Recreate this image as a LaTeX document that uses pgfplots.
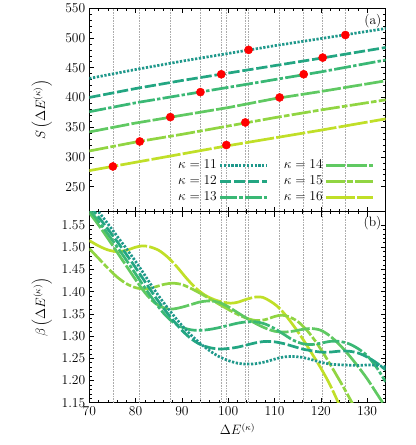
\documentclass[border=0pt]{standalone}
\usepackage{pgfplots}
\pgfplotsset{compat=1.18}
\definecolor{c11}{RGB}{31,152,139}
\definecolor{c12}{RGB}{35,166,130}
\definecolor{c13}{RGB}{58,184,117}
\definecolor{c14}{RGB}{96,201,98}
\definecolor{c15}{RGB}{145,213,66}
\definecolor{c16}{RGB}{192,223,40}
\begin{document}
\begin{tikzpicture}
\pgfplotsset{
  panel/.style={
    scale only axis, width=262.3pt, xmin=70, xmax=134,
    xtick={70,80,90,100,110,120,130}, minor x tick num=4,
    tick align=inside, xtick pos=both, ytick pos=both,
    major tick length=4.5pt, minor tick length=2.5pt,
    axis line style={line width=0.8pt},
    every tick/.style={black, line width=0.5pt},
    every tick label/.append style={font=\large},
    label style={font=\large},
    extra x ticks={75.1,80.9,87.5,94.0,98.5,99.6,103.7,104.4,111.1,116.3,120.4,125.3},
    extra x tick labels={},
    extra x tick style={grid=major, major tick length=0pt, major grid style={gray!65, densely dotted, line width=0.6pt}},
    every axis y label/.style={at={(axis description cs:-0.16,0.5)}, rotate=90, anchor=center, font=\large},
  },
  s11/.style={c11, line width=2.4pt, dash pattern=on 2pt off 1.4pt},
  s12/.style={c12, line width=2.4pt, dash pattern=on 10pt off 2.5pt},
  s13/.style={c13, line width=2.4pt, dash pattern=on 15pt off 2pt on 3pt off 2pt},
  s14/.style={c14, line width=2.4pt, dash pattern=on 17pt off 2pt},
  s15/.style={c15, line width=2.4pt, dash pattern=on 17pt off 2pt on 5pt off 2pt},
  s16/.style={c16, line width=2.4pt, dash pattern=on 26pt off 2pt},
}
\begin{axis}[panel, name=top, height=180pt, ymin=208, ymax=550,
  ytick={250,300,350,400,450,500,550}, minor y tick num=4, xticklabels={},
  ylabel={$S\left(\Delta E^{(\kappa)}\right)$},
  legend plot pos=right,
  legend image code/.code={\draw[#1] (0pt,0pt) -- (42pt,0pt);},
  legend style={at={(rel axis cs:0.975,0.02)}, anchor=south east, draw=none, fill=none, font=\large,
    legend columns=2, row sep=0pt,
    nodes={inner sep=1.5pt, text height=8.5pt, text depth=2.5pt},
    /tikz/every even column/.append style={column sep=12pt}},
]
\addplot[s11] coordinates {(70,432)(80,447)(90,461)(100,474)(110,487)(120,499)(134,516)};
\addlegendentry{$\kappa=11$}
\addplot[s14] coordinates {(70,342)(80,357)(90,370)(100,383)(110,398)(120,410)(134,428)};
\addlegendentry{$\kappa=14$}
\addplot[s12] coordinates {(70,400)(80,415)(90,428.5)(100,441)(110,453.5)(120,466)(134,484)};
\addlegendentry{$\kappa=12$}
\addplot[s15] coordinates {(70,310)(80,325)(90,338)(100,352)(110,366)(120,379)(134,396)};
\addlegendentry{$\kappa=15$}
\addplot[s13] coordinates {(70,376)(80,391)(90,404)(100,417)(110,430)(120,443)(134,463)};
\addlegendentry{$\kappa=13$}
\addplot[s16] coordinates {(70,277)(80,291)(90,305)(100,319)(110,332)(120,345)(134,364)};
\addlegendentry{$\kappa=16$}
\addplot[only marks, mark=*, mark size=3.6pt, color=red, forget plot] coordinates {
(75.1,284)(80.9,326)(87.5,367)(94.0,409)(98.5,439)(104.4,480)
(99.6,320)(103.7,358)(111.1,400)(116.3,439)(120.4,467)(125.3,505)};
\node[anchor=north east, inner sep=1pt, font=\large] at (rel axis cs:0.99,0.975) {(a)};
\end{axis}
\begin{axis}[panel, name=bot, at={(top.south west)}, anchor=north west, height=169.1pt,
  ymin=1.15, ymax=1.58, ytick={1.15,1.20,1.25,1.30,1.35,1.40,1.45,1.50,1.55}, minor y tick num=4,
  yticklabel style={/pgf/number format/.cd, fixed, fixed zerofill, precision=2},
  xlabel={$\Delta E^{(\kappa)}$}, ylabel={$\beta\left(\Delta E^{(\kappa)}\right)$},
]
\addplot[s16, smooth] coordinates {(70,1.515)(72,1.503)(74,1.494)(76,1.490)(78,1.493)(80,1.500)(81.5,1.503)(83,1.501)(85,1.493)(87,1.477)(89,1.455)(91,1.430)(93,1.408)(95,1.392)(97,1.382)(99,1.376)(100.5,1.374)(102,1.376)(104,1.383)(106,1.388)(107.5,1.387)(109,1.379)(110.5,1.368)(112,1.352)(114,1.325)(116,1.295)(118,1.262)(120,1.228)(122,1.190)(124,1.145)};
\addplot[s15, smooth] coordinates {(70,1.497)(72,1.475)(74,1.453)(76,1.433)(78,1.418)(80,1.409)(82,1.406)(84,1.410)(86,1.416)(88,1.419)(90,1.416)(92,1.407)(94,1.396)(96,1.384)(98,1.372)(100,1.360)(102,1.349)(104,1.340)(106,1.335)(108,1.337)(110,1.344)(111.5,1.347)(113,1.344)(115,1.333)(117,1.313)(119,1.286)(121,1.254)(123,1.219)(125,1.183)(127,1.145)};
\addplot[s14, smooth] coordinates {(70,1.578)(72,1.550)(74,1.520)(76,1.489)(78,1.458)(80,1.427)(82,1.398)(84,1.376)(86,1.364)(88,1.361)(90,1.365)(92,1.371)(94,1.377)(96,1.379)(98,1.376)(100,1.366)(102,1.353)(104,1.340)(106,1.328)(108,1.318)(110,1.311)(112,1.309)(114,1.311)(116,1.315)(118,1.317)(120,1.313)(122,1.300)(124,1.281)(126,1.258)(128,1.232)(130,1.204)(132,1.172)(134,1.140)};
\addplot[s13, smooth] coordinates {(70,1.585)(72,1.558)(74,1.530)(76,1.501)(78,1.471)(80,1.440)(82,1.409)(84,1.379)(86,1.352)(88,1.332)(90,1.320)(92,1.314)(94,1.313)(96,1.315)(98,1.319)(100,1.324)(102,1.329)(104,1.332)(106,1.332)(108,1.327)(110,1.317)(112,1.304)(114,1.291)(116,1.283)(118,1.281)(120,1.284)(122,1.288)(124,1.288)(126,1.283)(128,1.272)(130,1.256)(132,1.230)(134,1.197)};
\addplot[s12, smooth] coordinates {(70,1.595)(72,1.568)(74,1.541)(76,1.513)(78,1.484)(80,1.454)(82,1.423)(84,1.392)(86,1.363)(88,1.337)(90,1.313)(92,1.294)(94,1.281)(96,1.274)(98,1.271)(100,1.272)(102,1.275)(104,1.280)(106,1.285)(108,1.288)(110,1.287)(112,1.283)(114,1.277)(116,1.271)(118,1.267)(120,1.264)(122,1.264)(124,1.266)(126,1.266)(128,1.262)(130,1.253)(132,1.240)(134,1.224)};
\addplot[s11, smooth] coordinates {(70,1.607)(72,1.580)(74,1.553)(76,1.525)(78,1.497)(80,1.468)(82,1.437)(84,1.405)(86,1.376)(88,1.349)(90,1.324)(92,1.302)(94,1.283)(96,1.267)(98,1.254)(100,1.245)(102,1.239)(104,1.237)(106,1.238)(108,1.242)(110,1.248)(112,1.253)(114,1.254)(116,1.252)(118,1.247)(120,1.241)(122,1.237)(125,1.235)(128,1.234)(131,1.235)(134,1.231)};
\node[anchor=north east, inner sep=1pt, font=\large] at (rel axis cs:0.99,0.985) {(b)};
\end{axis}
\path ([xshift=-79pt,yshift=7.3pt]top.north west) rectangle ([xshift=26pt,yshift=-37.4pt]bot.south east);
\end{tikzpicture}
\end{document}
